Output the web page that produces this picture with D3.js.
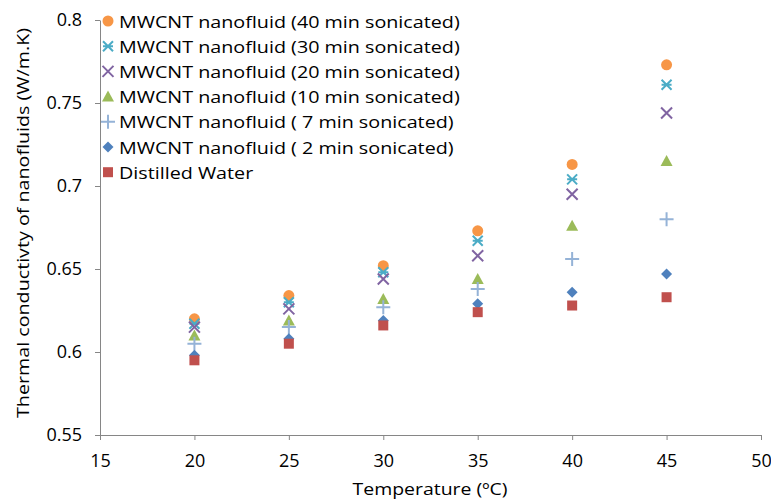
<!DOCTYPE html>
<html>
<head>
<meta charset="utf-8">
<script src="https://cdn.jsdelivr.net/npm/d3@7"></script>
<style>
  body { margin: 0; background: #fff; }
  text { font-family: "Open Sans", sans-serif; fill: #000; }
</style>
</head>
<body>
<div id="chart"></div>
<script>
const w = 771;
const h = 502;

// temperatures (ºC)
const temps = [20, 25, 30, 35, 40, 45];
const xTicks = [15, 20, 25, 30, 35, 40, 45, 50];
const yTicks = [0.55, 0.6, 0.65, 0.7, 0.75, 0.8];

// thermal conductivity values
const min40 = [0.620, 0.634, 0.652, 0.673, 0.713, 0.773];
const min30 = [0.617, 0.630, 0.648, 0.667, 0.704, 0.761];
const min20 = [0.615, 0.626, 0.644, 0.658, 0.695, 0.744];
const min10 = [0.610, 0.619, 0.632, 0.644, 0.676, 0.715];
const min7  = [0.605, 0.615, 0.627, 0.638, 0.656, 0.680];
const min2  = [0.598, 0.608, 0.619, 0.629, 0.636, 0.647];
const water = [0.595, 0.605, 0.616, 0.624, 0.628, 0.633];

const names = [
  "MWCNT nanofluid (40 min sonicated)",
  "MWCNT nanofluid (30 min sonicated)",
  "MWCNT nanofluid (20 min sonicated)",
  "MWCNT nanofluid (10 min sonicated)",
  "MWCNT nanofluid ( 7 min sonicated)",
  "MWCNT nanofluid ( 2 min sonicated)",
  "Distilled Water"
];

const series = [
  {name: names[0], values: min40, shape: "circle", color: "#F79646"},
  {name: names[1], values: min30, shape: "star", color: "#4BACC6"},
  {name: names[2], values: min20, shape: "x", color: "#8064A2"},
  {name: names[3], values: min10, shape: "triangle", color: "#9BBB59"},
  {name: names[4], values: min7, shape: "plus", color: "#95B3D7"},
  {name: names[5], values: min2, shape: "diamond", color: "#4F81BD"},
  {name: names[6], values: water, shape: "square", color: "#C0504D"}
];

const xScale = d3.scaleLinear().domain([15, 50]).range([100, 761]);
const yScale = d3.scaleLinear().domain([0.55, 0.8]).range([435, 20]);

const svg = d3.select("#chart").append("svg")
  .attr("width", w)
  .attr("height", h);

const axisColor = "#868686";

//X axis
const xAxis = svg.append("g")
  .attr("transform", "translate(0,435)")
  .call(d3.axisBottom(xScale).tickValues(xTicks).tickSize(5).tickSizeOuter(0).tickPadding(14));
//Y axis
const yAxis = svg.append("g")
  .attr("transform", "translate(100,0)")
  .call(d3.axisLeft(yScale).tickValues(yTicks).tickSize(5).tickSizeOuter(0).tickPadding(13)
    .tickFormat(d => String(+d.toFixed(2))));

[xAxis, yAxis].forEach(a => {
  a.select(".domain").attr("stroke", axisColor);
  a.selectAll(".tick line").attr("stroke", axisColor);
  a.selectAll(".tick text").style("font-size", "18px").style("font-family", "'Open Sans', sans-serif").attr("fill", "#000");
});

svg.append("text")
  .attr("x", 430).attr("y", 495)
  .attr("text-anchor", "middle")
  .style("font-size", "17px")
  .attr("textLength", 155).attr("lengthAdjust", "spacingAndGlyphs")
  .text("Temperature (ºC)");

svg.append("text")
  .attr("transform", "translate(29,223) rotate(-90)")
  .attr("text-anchor", "middle")
  .style("font-size", "17px")
  .attr("textLength", 390).attr("lengthAdjust", "spacingAndGlyphs")
  .text("Thermal conductivty of nanofluids (W/m.K)");

// draw a marker of given shape at (0,0)
const drawMarker = (g, s) => {
  const c = s.color;
  if (s.shape === "circle") {
    g.append("circle").attr("r", 5.5).attr("fill", c);
  } else if (s.shape === "square") {
    g.append("rect").attr("x", -5).attr("y", -5).attr("width", 10).attr("height", 10).attr("fill", c);
  } else if (s.shape === "diamond") {
    g.append("path").attr("d", "M0,-5.5L5.5,0L0,5.5L-5.5,0Z").attr("fill", c);
  } else if (s.shape === "triangle") {
    g.append("path").attr("d", "M0,-6L6,5L-6,5Z").attr("fill", c);
  } else if (s.shape === "plus") {
    g.append("path").attr("d", "M-7,0H7M0,-7V7").attr("stroke", c).attr("stroke-width", 2);
  } else if (s.shape === "x") {
    g.append("path").attr("d", "M-5.5,-5.5L5.5,5.5M5.5,-5.5L-5.5,5.5").attr("stroke", c).attr("stroke-width", 2);
  } else if (s.shape === "star") {
    g.append("path").attr("d", "M-5,-5L5,5M5,-5L-5,5M-5,0H5").attr("stroke", c).attr("stroke-width", 2);
  }
};

// points
series.forEach(s => {
  temps.forEach((t, i) => {
    const g = svg.append("g")
      .attr("transform", `translate(${xScale(t)},${yScale(s.values[i])})`);
    drawMarker(g, s);
  });
});

// legend
const legend = svg.append("g").attr("transform", "translate(108,21)");
series.forEach((s, i) => {
  const row = legend.append("g").attr("transform", `translate(0,${i * 25.2})`);
  drawMarker(row.append("g"), s);
  const t = row.append("text")
    .attr("x", 11).attr("y", 6.5)
    .style("font-size", "17px")
    .text(s.name);
  // stretch a bit, the original font is wider
  const len = t.node().getComputedTextLength();
  t.attr("textLength", len * 1.16).attr("lengthAdjust", "spacingAndGlyphs");
});
</script>
</body>
</html>
